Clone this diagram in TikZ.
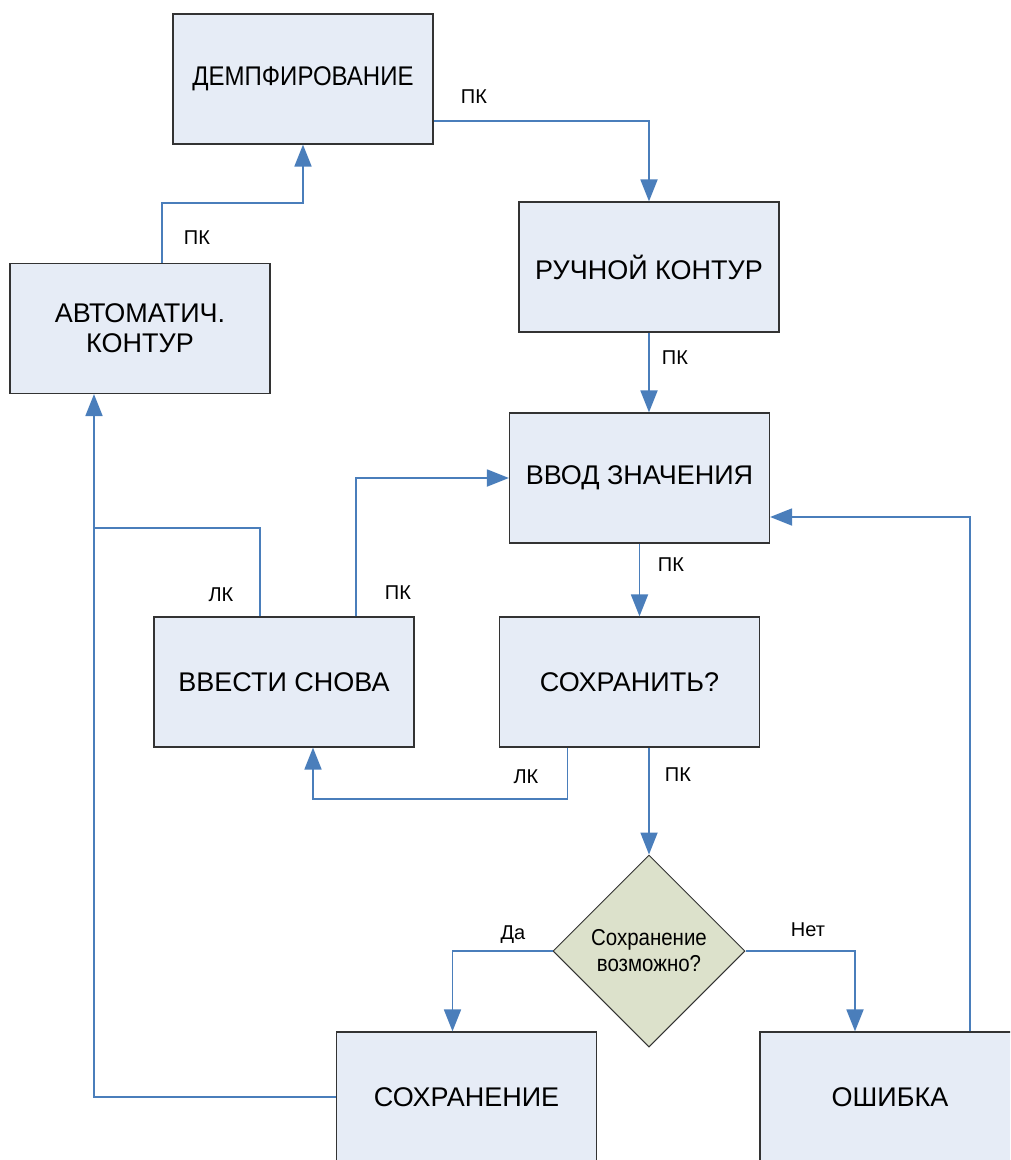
\documentclass[tikz,border=0pt]{standalone}
\usepackage{fontspec}
\setmainfont{Liberation Sans}
\newfontfamily\narrowfont[FakeStretch=0.89]{Liberation Sans}
\definecolor{boxfill}{HTML}{E6ECF6}
\definecolor{diafill}{HTML}{DCE1CB}
\definecolor{linkblue}{HTML}{4A7EBB}
\usetikzlibrary{shapes.geometric, arrows.meta}

\begin{document}
\begin{tikzpicture}[x=1pt, y=-1pt,
  box/.style  = {draw=black!80, fill=boxfill, line width=1.2pt,
                 minimum width=260pt, minimum height=130pt, align=center,
                 inner sep=0pt, font=\fontsize{27}{30}\selectfont},
  cond/.style = {diamond, draw=black!80, fill=diafill, line width=1pt,
                 minimum width=192pt, minimum height=192pt, inner sep=0pt,
                 align=center, font=\narrowfont\fontsize{23}{26}\selectfont},
  link/.style = {draw=linkblue, line width=1.8pt},
  arr/.style  = {link, -{Triangle[length=22pt, width=17pt]}},
  lbl/.style  = {font=\fontsize{20}{22}\selectfont, inner sep=0pt}
]
\useasboundingbox (0,0) rectangle (1010,1160);
\clip (0,0) rectangle (1010,1160);

% Top row
\node[box, font=\narrowfont\fontsize{27}{30}\selectfont]
           (demp) at (303,79)    {ДЕМПФИРОВАНИЕ};
\node[box] (ruch) at (649,267)   {РУЧНОЙ КОНТУР};
\node[box] (avto) at (140,328.5) {АВТОМАТИЧ.\\КОНТУР};

% Middle
\node[box] (vvod)   at (639.5,478) {ВВОД ЗНАЧЕНИЯ};
\node[box] (vvesti) at (284,682)   {ВВЕСТИ СНОВА};
\node[box] (sohr)   at (629.5,682) {СОХРАНИТЬ?};

% Decision and bottom row
\node[cond] (dia)   at (649,951)    {Сохранение\\возможно?};
\node[box]  (sohrn) at (466.5,1097) {СОХРАНЕНИЕ};
\node[box]  (osh)   at (890,1097)   {ОШИБКА};

\coordinate (jn) at (94,528);

% Connectors
\draw[arr] ([yshift=-42pt]demp.east) -| (ruch.north);
\draw[arr] ([xshift=22pt]avto.north) -- ++(0,-60) -| (demp.south);
\draw[arr] (ruch.south) -- (ruch.south |- vvod.north);
\draw[arr] (vvod.south) -- (vvod.south |- sohr.north);
\draw[arr] ([xshift=-62pt]sohr.south) -- ++(0,51) -| ([xshift=29pt]vvesti.south);
\draw[arr] (dia.north |- sohr.south) -- (dia.north);
\draw[arr] ([xshift=72pt]vvesti.north) |- (vvod.west);
\draw[link] ([xshift=-24pt]vvesti.north) |- (jn);
\draw[arr] (sohrn.west) -| (jn) -- ([xshift=-46pt]avto.south);
\draw[arr] (dia.west) -| ([xshift=-14pt]sohrn.north);
\draw[arr] (dia.east) -| ([xshift=-35pt]osh.north);
\draw[arr] ([xshift=80pt]osh.north) |- ([yshift=-39pt]vvod.east);

% Labels
\node[lbl] (l1)  at (474,97)  {ПК};
\node[lbl] (l2)  at (197,238) {ПК};
\node[lbl] (l3)  at (675,358) {ПК};
\node[lbl] (l4)  at (671,565) {ПК};
\node[lbl] (l5)  at (221,595) {ЛК};
\node[lbl] (l6)  at (398,593) {ПК};
\node[lbl] (l7)  at (526,777) {ЛК};
\node[lbl] (l8)  at (678,775) {ПК};
\node[lbl] (da)  at (513,935) {Да};
\node[lbl] (net) at (808,930) {Нет};

\end{tikzpicture}
\end{document}
